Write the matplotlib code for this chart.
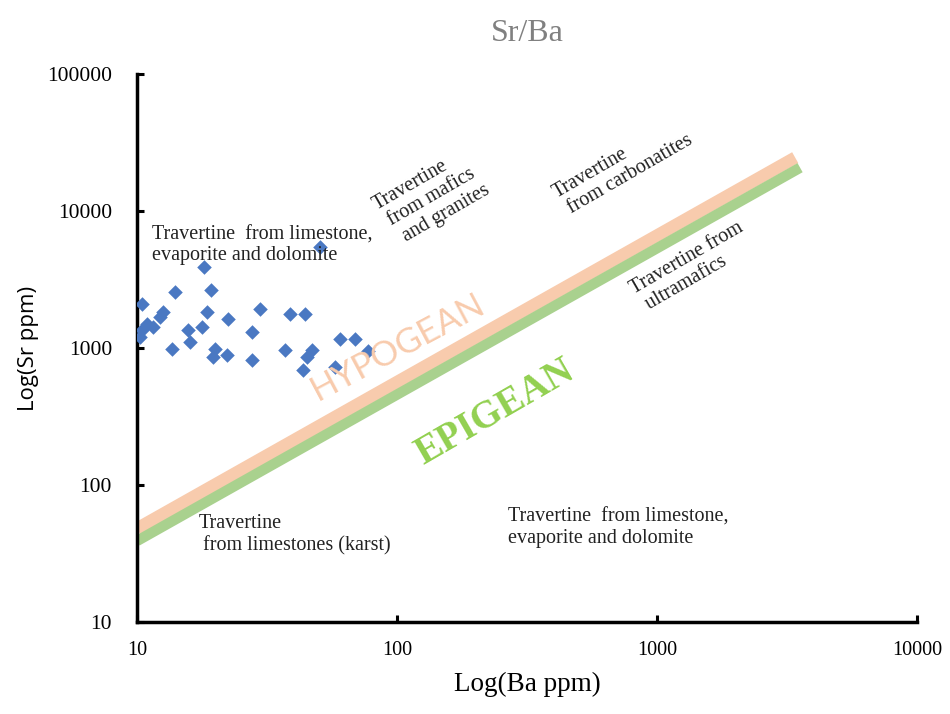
import matplotlib.pyplot as plt

# sample data (Ba ppm, Sr ppm)
ba = [50.6, 18.1, 14.0, 19.3, 10.45, 29.7, 18.6, 12.6, 12.3, 38.7, 44.3, 22.4,
      10.9, 11.5, 10.5, 17.8, 15.7, 27.7, 10.3, 60.4, 68.9, 16.0, 13.6, 19.9,
      22.2, 37.1, 47.1, 45.1, 19.6, 27.7, 43.5, 57.8, 77.4]
sr = [5430, 3880, 2550, 2640, 2090, 1920, 1830, 1830, 1680, 1770, 1770, 1625,
      1495, 1420, 1350, 1420, 1350, 1310, 1200, 1160, 1160, 1105, 983, 983,
      889, 967, 967, 860, 860, 818, 692, 727, 950]

# boundary lines
hypo_ba = [10, 3400]
hypo_sr = [48, 24500]
epi_ba = [10, 3550]
epi_sr = [39, 20700]

xticks = [10, 100, 1000, 10000]
yticks = [10, 100, 1000, 10000, 100000]

serif = ['Liberation Serif', 'DejaVu Serif']
sans = ['Open Sans', 'DejaVu Sans']

fig = plt.figure(figsize=(9.5, 7.14), dpi=100)
ax = fig.add_axes([0.1442, 0.1289, 0.8211, 0.7675])

ax.plot(hypo_ba, hypo_sr, color='#F8CBAD', lw=9, solid_capstyle='butt', zorder=2)
ax.plot(epi_ba, epi_sr, color='#A9D18E', lw=7.5, solid_capstyle='butt', zorder=2)
ax.scatter(ba, sr, marker='D', s=55, color='#4A78C2', zorder=3, linewidths=0)

ax.set_xscale('log')
ax.set_yscale('log')
ax.set_xlim(10, 10000)
ax.set_ylim(10, 100000)
ax.set_xticks(xticks)
ax.set_yticks(yticks)
ax.set_xticklabels([str(v) for v in xticks], family=serif, fontsize=14.5)
ax.set_yticklabels([str(v) for v in yticks], family=serif, fontsize=15.5)
ax.minorticks_off()
ax.tick_params(direction='in', length=5, width=2.2, pad=14)
ax.tick_params(axis='y', pad=18)

for s in ['top', 'right']:
    ax.spines[s].set_visible(False)
for s in ['left', 'bottom']:
    ax.spines[s].set_linewidth(2.5)

ax.set_title('Sr/Ba', family=serif, fontsize=23, color='#808080', pad=24)
ax.set_xlabel('Log(Ba ppm)', family=serif, fontsize=19.5, labelpad=8)
ax.set_ylabel('Log(Sr ppm)', family=sans, fontsize=16, labelpad=6)

tk = dict(family=serif, fontsize=14.5, color='#222222')
rk = dict(ha='center', va='center', rotation_mode='anchor',
          multialignment='left', linespacing=1.15, rotation=30)
ax.text(11.4, 5610, 'Travertine  from limestone,\nevaporite and dolomite',
        ha='left', va='center', linespacing=1.1, **tk)
ax.text(136, 12500, 'Travertine\n from mafics\n  and granites', **rk, **tk)
ax.text(740, 21000, 'Travertine\n from carbonatites', **rk, **tk)
ax.text(1365, 3880, 'Travertine from\n ultramafics', **rk, **tk)
ax.text(17.2, 43.3, 'Travertine\n from limestones (karst)',
        ha='left', va='center', linespacing=1.15, **tk)
ax.text(267, 48.6, 'Travertine  from limestone,\nevaporite and dolomite',
        ha='left', va='center', linespacing=1.15, **tk)

ax.text(101, 1020, 'HYPOGEAN', rotation=28, ha='center', va='center',
        rotation_mode='anchor', family=['Lato', 'DejaVu Sans'], fontsize=25,
        color='#F8CBAD', zorder=4)
ax.text(238, 337, 'EPIGEAN', rotation=30, ha='center', va='center',
        rotation_mode='anchor', family=serif, fontsize=28, fontweight='bold',
        color='#92D050')

fig.savefig('out.png', dpi=100)
